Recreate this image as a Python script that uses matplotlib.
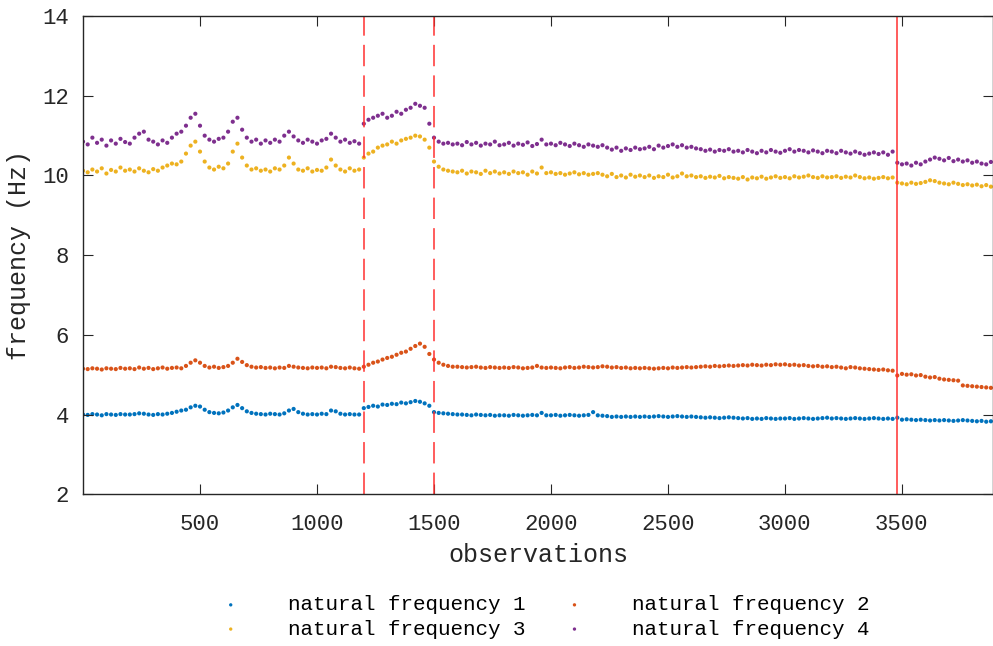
import numpy as np
import matplotlib.pyplot as plt

plt.rcParams['font.family'] = ['Liberation Mono', 'DejaVu Sans Mono']

# observation index (one reading every 20 observations)
obs = np.arange(1, 3891, 20)

# natural frequencies (Hz)
f1 = [4.00, 3.99, 4.01, 4.00, 3.98, 4.01, 4.00, 3.99, 4.01, 4.00,
      4.00, 4.01, 4.03, 4.02, 4.00, 3.99, 4.01, 4.00, 4.02, 4.04,
      4.07, 4.10, 4.12, 4.18, 4.22, 4.20, 4.12, 4.06, 4.04, 4.03,
      4.05, 4.10, 4.18, 4.24, 4.16, 4.08, 4.04, 4.02, 4.01, 4.00,
      4.02, 4.01, 4.00, 4.03, 4.10, 4.14, 4.06, 4.02, 4.00, 4.01,
      4.00, 4.02, 4.01, 4.10, 4.08, 4.02, 4.00, 4.01, 4.00, 4.00,
      4.16, 4.19, 4.22, 4.20, 4.25, 4.24, 4.27, 4.26, 4.30, 4.28,
      4.31, 4.34, 4.32, 4.28, 4.22, 4.06, 4.04, 4.03, 4.02, 4.01,
      4.00, 4.00, 3.99, 3.98, 4.00, 3.99, 3.98, 3.99, 3.97, 3.98,
      3.98, 3.97, 3.99, 3.98, 3.97, 3.98, 3.99, 3.98, 4.04, 3.98,
      3.98, 3.99, 3.97, 3.98, 3.99, 3.98, 3.97, 3.98, 3.99, 4.06,
      3.98, 3.97, 3.96, 3.94, 3.95, 3.94, 3.95, 3.94, 3.95, 3.94,
      3.95, 3.94, 3.95, 3.96, 3.95, 3.94, 3.95, 3.96, 3.95, 3.94,
      3.95, 3.94, 3.93, 3.92, 3.93, 3.92, 3.91, 3.92, 3.93, 3.92,
      3.91, 3.90, 3.91, 3.89, 3.90, 3.89, 3.91, 3.90, 3.89, 3.90,
      3.90, 3.91, 3.89, 3.90, 3.91, 3.90, 3.89, 3.90, 3.91, 3.92,
      3.90, 3.91, 3.90, 3.89, 3.90, 3.91, 3.90, 3.89, 3.90, 3.91,
      3.90, 3.89, 3.90, 3.89, 3.92, 3.87, 3.88, 3.87, 3.86, 3.87,
      3.86, 3.85, 3.86, 3.85, 3.86, 3.85, 3.84, 3.85, 3.86, 3.85,
      3.84, 3.83, 3.84, 3.82, 3.83]

f2 = [5.15, 5.14, 5.16, 5.15, 5.13, 5.16, 5.15, 5.14, 5.17, 5.15,
      5.16, 5.14, 5.18, 5.15, 5.17, 5.14, 5.16, 5.18, 5.15, 5.17,
      5.18, 5.16, 5.22, 5.30, 5.36, 5.30, 5.22, 5.18, 5.20, 5.17,
      5.19, 5.22, 5.30, 5.40, 5.32, 5.24, 5.20, 5.18, 5.19, 5.17,
      5.18, 5.16, 5.18, 5.17, 5.22, 5.20, 5.18, 5.17, 5.16, 5.18,
      5.17, 5.18, 5.16, 5.20, 5.19, 5.17, 5.16, 5.18, 5.16, 5.15,
      5.20, 5.25, 5.30, 5.33, 5.38, 5.42, 5.45, 5.50, 5.55, 5.58,
      5.65, 5.72, 5.78, 5.70, 5.52, 5.38, 5.30, 5.25, 5.22, 5.20,
      5.20, 5.19, 5.18, 5.19, 5.20, 5.18, 5.17, 5.19, 5.18, 5.17,
      5.18, 5.17, 5.19, 5.18, 5.16, 5.17, 5.18, 5.22, 5.18, 5.17,
      5.18, 5.17, 5.16, 5.18, 5.19, 5.17, 5.18, 5.20, 5.19, 5.18,
      5.19, 5.21, 5.20, 5.18, 5.19, 5.17, 5.18, 5.16, 5.17, 5.16,
      5.17, 5.16, 5.15, 5.16, 5.17, 5.16, 5.18, 5.17, 5.18, 5.19,
      5.18, 5.19, 5.20, 5.21, 5.20, 5.22, 5.21, 5.22, 5.23, 5.22,
      5.23, 5.24, 5.23, 5.25, 5.24, 5.23, 5.25, 5.24, 5.26, 5.25,
      5.26, 5.24, 5.25, 5.23, 5.24, 5.22, 5.21, 5.22, 5.20, 5.21,
      5.19, 5.20, 5.18, 5.16, 5.19, 5.18, 5.16, 5.15, 5.14, 5.13,
      5.12, 5.13, 5.11, 5.10, 4.98, 5.02, 5.00, 5.01, 4.98, 4.99,
      4.95, 4.93, 4.94, 4.90, 4.88, 4.87, 4.86, 4.85, 4.73, 4.72,
      4.71, 4.70, 4.69, 4.68, 4.67]

f3 = [10.12, 10.08, 10.15, 10.10, 10.18, 10.05, 10.14, 10.10, 10.20, 10.12,
      10.15, 10.10, 10.18, 10.12, 10.08, 10.16, 10.12, 10.20, 10.25, 10.30,
      10.28, 10.35, 10.55, 10.75, 10.85, 10.60, 10.35, 10.20, 10.15, 10.22,
      10.18, 10.30, 10.60, 10.80, 10.45, 10.25, 10.15, 10.18, 10.12, 10.15,
      10.10, 10.18, 10.15, 10.25, 10.45, 10.30, 10.15, 10.12, 10.18, 10.10,
      10.14, 10.12, 10.20, 10.40, 10.25, 10.15, 10.10, 10.18, 10.12, 10.15,
      10.45, 10.55, 10.60, 10.70, 10.75, 10.78, 10.85, 10.80, 10.88, 10.92,
      10.95, 11.00, 10.98, 10.90, 10.70, 10.35, 10.22, 10.15, 10.12, 10.10,
      10.08, 10.12, 10.05, 10.10, 10.08, 10.04, 10.12, 10.06, 10.10, 10.05,
      10.08, 10.04, 10.10, 10.06, 10.08, 10.02, 10.10, 10.05, 10.20, 10.06,
      10.08, 10.04, 10.06, 10.02, 10.05, 10.08, 10.03, 10.06, 10.02, 10.04,
      10.06, 10.02, 9.98, 10.04, 9.96, 10.00, 9.95, 10.02, 9.97, 10.00,
      9.96, 10.00, 9.94, 9.98, 9.96, 10.02, 9.95, 9.98, 10.05, 9.98,
      10.00, 9.96, 9.98, 9.94, 9.97, 9.95, 9.99, 9.93, 9.96, 9.94,
      9.92, 9.96, 9.90, 9.95, 9.93, 9.97, 9.92, 9.95, 9.98, 9.94,
      9.96, 9.93, 9.98, 9.95, 9.97, 10.00, 9.96, 9.94, 9.98, 9.95,
      9.96, 9.98, 9.94, 9.97, 9.95, 10.00, 9.96, 9.93, 9.95, 9.92,
      9.94, 9.96, 9.93, 9.95, 9.82, 9.80, 9.78, 9.82, 9.79, 9.81,
      9.84, 9.88, 9.86, 9.82, 9.80, 9.78, 9.82, 9.79, 9.76, 9.78,
      9.75, 9.77, 9.73, 9.76, 9.72]

f4 = [10.85, 10.78, 10.95, 10.82, 10.90, 10.75, 10.88, 10.80, 10.92, 10.84,
      10.80, 10.95, 11.05, 11.10, 10.90, 10.85, 10.78, 10.88, 10.82, 10.95,
      11.05, 11.10, 11.25, 11.45, 11.55, 11.25, 11.00, 10.90, 10.85, 10.92,
      10.95, 11.10, 11.35, 11.45, 11.15, 10.95, 10.85, 10.90, 10.80, 10.88,
      10.82, 10.90, 10.85, 11.00, 11.10, 10.98, 10.88, 10.82, 10.90, 10.85,
      10.80, 10.88, 10.92, 11.05, 10.95, 10.85, 10.90, 10.82, 10.86, 10.80,
      11.30, 11.40, 11.45, 11.50, 11.55, 11.45, 11.50, 11.60, 11.55, 11.65,
      11.70, 11.80, 11.75, 11.70, 11.30, 10.95, 10.85, 10.80, 10.82, 10.78,
      10.80, 10.76, 10.84, 10.78, 10.82, 10.75, 10.80, 10.78, 10.85, 10.76,
      10.78, 10.82, 10.75, 10.80, 10.77, 10.83, 10.74, 10.79, 10.90, 10.78,
      10.80, 10.76, 10.82, 10.78, 10.74, 10.80, 10.76, 10.72, 10.78, 10.75,
      10.72, 10.76, 10.70, 10.65, 10.70, 10.62, 10.68, 10.64, 10.70, 10.66,
      10.68, 10.72, 10.66, 10.75, 10.70, 10.74, 10.78, 10.72, 10.76, 10.70,
      10.72, 10.68, 10.66, 10.62, 10.65, 10.60, 10.64, 10.62, 10.66, 10.60,
      10.62, 10.58, 10.64, 10.60, 10.56, 10.62, 10.58, 10.64, 10.60, 10.57,
      10.62, 10.66, 10.60, 10.64, 10.62, 10.58, 10.63, 10.60, 10.56, 10.62,
      10.60, 10.56, 10.62, 10.58, 10.55, 10.60, 10.56, 10.52, 10.55, 10.58,
      10.54, 10.58, 10.52, 10.60, 10.32, 10.28, 10.30, 10.25, 10.32, 10.28,
      10.35, 10.40, 10.45, 10.42, 10.38, 10.44, 10.36, 10.40, 10.35, 10.38,
      10.32, 10.35, 10.30, 10.28, 10.34]

labels = ['natural frequency 1', 'natural frequency 2',
          'natural frequency 3', 'natural frequency 4']
colors = ['#0072BD', '#D95319', '#EDB120', '#7E2F8E']

# marked events
dashed_events = [1200, 1500]
solid_events = [3480]

fig = plt.figure(figsize=(9.93, 6.46), dpi=100)
ax = fig.add_axes([0.0836, 0.235, 0.9164, 0.740])

handles = []
for y, c, lab in zip([f1, f2, f3, f4], colors, labels):
    h = ax.scatter(obs, y, s=9, color=c, edgecolors='none', label=lab)
    handles.append(h)

for x in dashed_events:
    ax.axvline(x, color='#ff3030', lw=1.1, dashes=(14, 6))
for x in solid_events:
    ax.axvline(x, color='#ff3030', lw=1.1)

ax.set_xlim(1, 3890)
ax.set_ylim(2, 14)
ax.set_xticks([500, 1000, 1500, 2000, 2500, 3000, 3500])
ax.set_yticks([2, 4, 6, 8, 10, 12, 14])
ax.tick_params(direction='in', top=True, right=True, length=7,
               labelsize=16, colors='#262626')
ax.tick_params(axis='x', pad=14)
ax.tick_params(axis='y', pad=10)
for s in ax.spines.values():
    s.set_color('#262626')
    s.set_linewidth(1.0)

ax.set_xlabel('observations', fontsize=18, color='#262626', labelpad=6)
ax.set_ylabel('frequency (Hz)', fontsize=18, color='#262626', labelpad=8)

# legend filled row by row: 1 2 / 3 4
order = [0, 2, 1, 3]
fig.legend([handles[i] for i in order], [labels[i] for i in order],
           loc='center', bbox_to_anchor=(0.546, 0.045), ncol=2,
           frameon=False, fontsize=15, markerscale=0.8,
           handlelength=1.5, handletextpad=2.0, columnspacing=1.6,
           labelspacing=0.25)

fig.savefig('out.png', dpi=100)
